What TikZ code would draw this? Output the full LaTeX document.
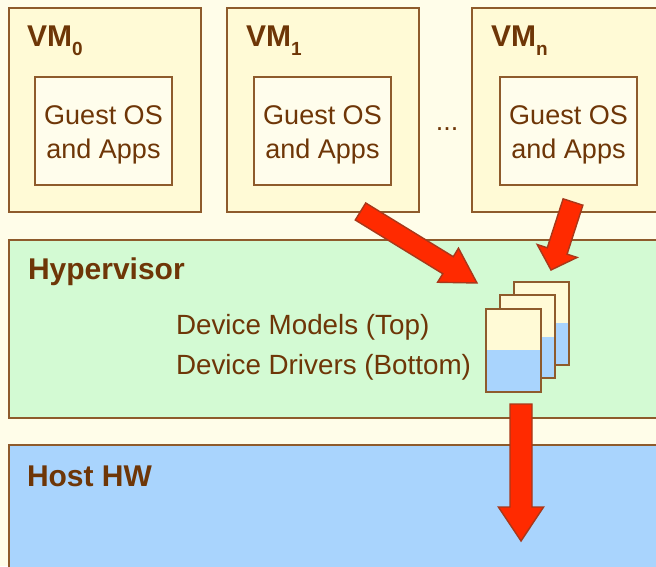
\documentclass[tikz,border=0pt]{standalone}
\usepackage{fontspec}
\setmainfont{Liberation Sans}
\usetikzlibrary{calc}
\definecolor{bg}{HTML}{FFFDE9}
\definecolor{vmfill}{HTML}{FFFAD6}
\definecolor{osfill}{HTML}{FFFDEC}
\definecolor{hvfill}{HTML}{D3FAD3}
\definecolor{hwfill}{HTML}{A9D4FD}
\definecolor{edge}{HTML}{8E5B2C}
\definecolor{txt}{HTML}{6E3607}
\definecolor{arrfill}{HTML}{FF2A00}
\definecolor{arredge}{HTML}{A8381A}
\newcommand\blockarrow[5]{% tail, tip, half shaft, half head, head length
  \coordinate (ba-h) at ($(#2)!#5!(#1)$);
  \filldraw[arrfill, draw=arredge, line width=0.7pt, line join=miter]
    ($(#1)!#3!90:(#2)$) -- ($(ba-h)!#3!90:(#2)$) -- ($(ba-h)!#4!90:(#2)$)
    -- (#2) -- ($(ba-h)!#4!-90:(#2)$) -- ($(ba-h)!#3!-90:(#2)$)
    -- ($(#1)!#3!-90:(#2)$) -- cycle;
}
\newcommand\vmsub[1]{\raisebox{-4.5pt}{\fontsize{9.5}{10}\selectfont\bfseries #1}}
\begin{document}
\begin{tikzpicture}[x=0.5pt,y=-0.5pt,
  every node/.style={text=txt, inner sep=0pt, outer sep=0pt},
  box/.style={draw=edge, line width=1pt, anchor=north west, rectangle},
  vmbox/.style={box, fill=vmfill, minimum width=96pt, minimum height=102pt},
  osbox/.style={box, fill=osfill, minimum width=68.5pt, minimum height=54pt},
  layer/.style={box, minimum width=331pt},
  devbox/.style={box, fill=vmfill, minimum width=27.5pt, minimum height=41.5pt,
    path picture={\fill[hwfill] (path picture bounding box.west) rectangle (path picture bounding box.south east);}},
  title/.style={font=\fontsize{15}{18}\selectfont\bfseries, anchor=base west},
  body/.style={font=\fontsize{13.5}{17}\selectfont},
  ostext/.style={body, align=center, anchor=center},
  devtext/.style={font=\fontsize{13.9}{17}\selectfont, anchor=base west}
]
\useasboundingbox (0,0) rectangle (656,566);
\clip (0,0) rectangle (656,566);
\fill[bg] (0,0) rectangle (656,566);

% VMs
\node[vmbox] (vm0) at (9,8) {};
\node[vmbox] (vm1) at (227,8) {};
\node[vmbox] (vmn) at (472,8) {};
\node[title] (vm0l) at (27,47) {VM\vmsub{0}};
\node[title] (vm1l) at (246,47) {VM\vmsub{1}};
\node[title] (vmnl) at (491,47) {VM\vmsub{n}};
\node[osbox] (os0) at (35,77) {};
\node[osbox] (os1) at (254,77) {};
\node[osbox] (osn) at (500,77) {};
\node[ostext] (os0t) at ($(os0.center)+(0,3.5)$) {Guest OS\\and Apps};
\node[ostext] (os1t) at ($(os1.center)+(0,3.5)$) {Guest OS\\and Apps};
\node[ostext] (osnt) at ($(osn.center)+(0,3.5)$) {Guest OS\\and Apps};
\node[body, anchor=base] (dots) at (447,131) {...};

% Hypervisor
\node[layer, fill=hvfill, minimum height=89pt] (hv) at (9,240) {};
\node[title] (hvl) at (28,279) {Hypervisor};
\node[devtext] (dm) at (176,334) {Device Models (Top)};
\node[devtext] (dd) at (176,374) {Device Drivers (Bottom)};

% Host HW
\node[layer, fill=hwfill, minimum height=75pt] (hw) at (9,445) {};
\node[title] (hwl) at (27,486) {Host HW};

% stacked device boxes
\node[devbox] (dev3) at (514,281.5) {};
\node[devbox] (dev2) at (500,295) {};
\node[devbox] (dev1) at (486,308.5) {};

% arrows
\coordinate (a1t) at (360.5,211.5); \coordinate (a1h) at (477,283);
\coordinate (a2t) at (573,202);     \coordinate (a2h) at (551,270);
\coordinate (a3t) at (521,404);     \coordinate (a3h) at (521,541);
\blockarrow{a1t}{a1h}{5pt}{10pt}{17pt}
\blockarrow{a2t}{a2h}{5.2pt}{10.5pt}{10pt}
\blockarrow{a3t}{a3h}{5.5pt}{11.3pt}{17pt}
\end{tikzpicture}
\end{document}
